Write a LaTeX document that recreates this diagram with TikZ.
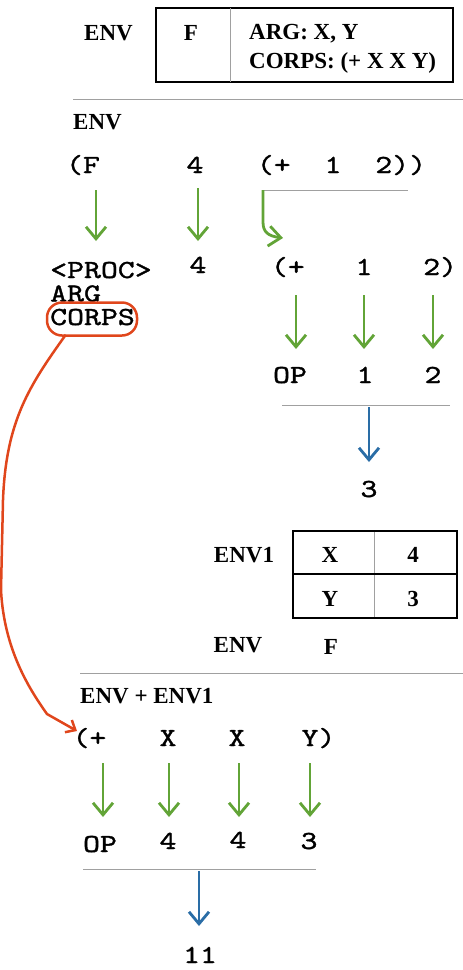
\documentclass[tikz,border=0pt]{standalone}
\usepackage{fontspec}
\setmainfont{Liberation Serif}
\newfontfamily\cour[FakeStretch=1.24,FakeBold=1.3]{lmmono10-regular.otf}
\usetikzlibrary{arrows.meta}
\definecolor{agreen}{HTML}{62A437}
\definecolor{ablue}{HTML}{2A6DA6}
\definecolor{ared}{HTML}{E0461C}
\definecolor{rule}{HTML}{A0A0A0}
\tikzset{
  mono/.style={font=\cour\fontsize{26}{26}\selectfont, inner sep=0pt, anchor=base},
  bold/.style={font=\fontsize{23}{24}\selectfont\bfseries, inner sep=0pt, anchor=base},
  greenarrow/.style={draw=agreen, line width=2.8pt, -{Straight Barb[length=12pt,width=20pt,line width=2.8pt]}},
  bluearrow/.style={draw=ablue, line width=2.8pt, -{Straight Barb[length=12pt,width=20pt,line width=2.8pt]}},
  redline/.style={draw=ared, line width=2.5pt},
  thinrule/.style={draw=rule, line width=1pt},
  boxline/.style={draw=black, line width=1.4pt},
}
\begin{document}
\begin{tikzpicture}[x=1pt,y=-1pt]
\useasboundingbox (0,0) rectangle (463,970);

% --- top box ---
\node[bold] (envtop) at (108.5,40) {ENV};
\draw[boxline] (156,8) rectangle (453,82);
\draw[thinrule] (230,8) -- (230,82);
\node[bold] (ftop) at (191,40) {F};
\node[bold, anchor=base west] (argtop) at (249,39) {ARG: X, Y};
\node[bold, anchor=base west] (corpstop) at (249,68) {CORPS: (+ X X Y)};

\draw[thinrule] (73,99) -- (463,99);
\node[bold, anchor=base west] (env2) at (73,129) {ENV};

% --- row 1 ---
\node[mono] (r1f) at (83,173) {(F};
\node[mono] (r1four) at (195,173) {4};
\node[mono] (r1sum) at (341.5,173) {(+\ \ 1\ \ 2))};
\draw[thinrule] (263,190) -- (408,190);

\coordinate (a1s) at (96,190);   \coordinate (a1e) at (96,241);
\coordinate (a2s) at (198,188);  \coordinate (a2e) at (198,241);
\coordinate (a3s) at (263,190);  \coordinate (a3e) at (283,238);
\draw[greenarrow] (a1s) -- (a1e);
\draw[greenarrow] (a2s) -- (a2e);
\draw[greenarrow] (a3s) -- (263,222) .. controls (263,232) and (268,236) .. (a3e);

% --- row 2 ---
\node[mono, anchor=base west, align=left, font=\cour\fontsize{26}{23.5}\selectfont] (proc) at (50,325) {<PROC>\\ARG\\CORPS};
\node[draw=ared, line width=2.5pt, rounded corners=15pt, minimum width=90pt, minimum height=33pt, inner sep=0pt] (ring) at (92,319) {};
\node[mono] (r2four) at (198,273) {4};
\node[mono] (r2sum) at (364,275) {(+\ \ \ 1\ \ \ 2)};

\coordinate (b1s) at (296,295); \coordinate (b1e) at (296,349);
\coordinate (b2s) at (364,295); \coordinate (b2e) at (364,349);
\coordinate (b3s) at (433,295); \coordinate (b3e) at (433,349);
\draw[greenarrow] (b1s) -- (b1e);
\draw[greenarrow] (b2s) -- (b2e);
\draw[greenarrow] (b3s) -- (b3e);

\node[mono] (op1) at (290,383) {OP};
\node[mono] (one1) at (365,383) {1};
\node[mono] (two1) at (433,383) {2};
\draw[thinrule] (282,405) -- (450,405);
\coordinate (c1s) at (369,407); \coordinate (c1e) at (369,462);
\draw[bluearrow] (c1s) -- (c1e);
\node[mono] (three1) at (369,497) {3};

% --- ENV1 table ---
\node[bold] (env1) at (244,562) {ENV1};
\draw[thinrule] (374,531) -- (374,618);
\draw[boxline] (293,574) -- (457,574);
\draw[boxline] (293,531) rectangle (457,618);
\node[bold] (tx) at (330,562) {X};
\node[bold] (t4) at (413,562) {4};
\node[bold] (ty) at (330,606) {Y};
\node[bold] (t3) at (413,606) {3};
\node[bold] (env3) at (238,652) {ENV};
\node[bold] (f3) at (331,654) {F};

\draw[thinrule] (80,673) -- (463,673);
\node[bold, anchor=base west] (envenv1) at (80,703) {ENV + ENV1};

% --- row 3 ---
\node[mono] (r3p) at (89.5,746) {(+};
\node[mono] (r3x1) at (168,746) {X};
\node[mono] (r3x2) at (237,746) {X};
\node[mono] (r3y) at (318.5,746) {Y)};

\coordinate (d1s) at (103,763); \coordinate (d1e) at (103,817);
\coordinate (d2s) at (169,763); \coordinate (d2e) at (169,817);
\coordinate (d3s) at (239,763); \coordinate (d3e) at (239,817);
\coordinate (d4s) at (310,763); \coordinate (d4e) at (310,817);
\draw[greenarrow] (d1s) -- (d1e);
\draw[greenarrow] (d2s) -- (d2e);
\draw[greenarrow] (d3s) -- (d3e);
\draw[greenarrow] (d4s) -- (d4e);

\node[mono] (op2) at (100,852) {OP};
\node[mono] (f42) at (168,849) {4};
\node[mono] (s42) at (238,848) {4};
\node[mono] (th2) at (309,849) {3};
\draw[thinrule] (83,869) -- (316,869);
\coordinate (e1s) at (199,871); \coordinate (e1e) at (199,926);
\draw[bluearrow] (e1s) -- (e1e);
\node[mono] (eleven) at (200,963) {11};

% --- red connector ---
\coordinate (redend) at (77,731);
\draw[redline, -{Straight Barb[length=8pt,width=14pt,line width=2.5pt]}]
  (ring.south west) ++(20,-2) .. controls (30,385) and (6,420) .. (3,500)
  -- (1,590) .. controls (4,650) and (30,690) .. (47,714) -- (redend);
\end{tikzpicture}
\end{document}
